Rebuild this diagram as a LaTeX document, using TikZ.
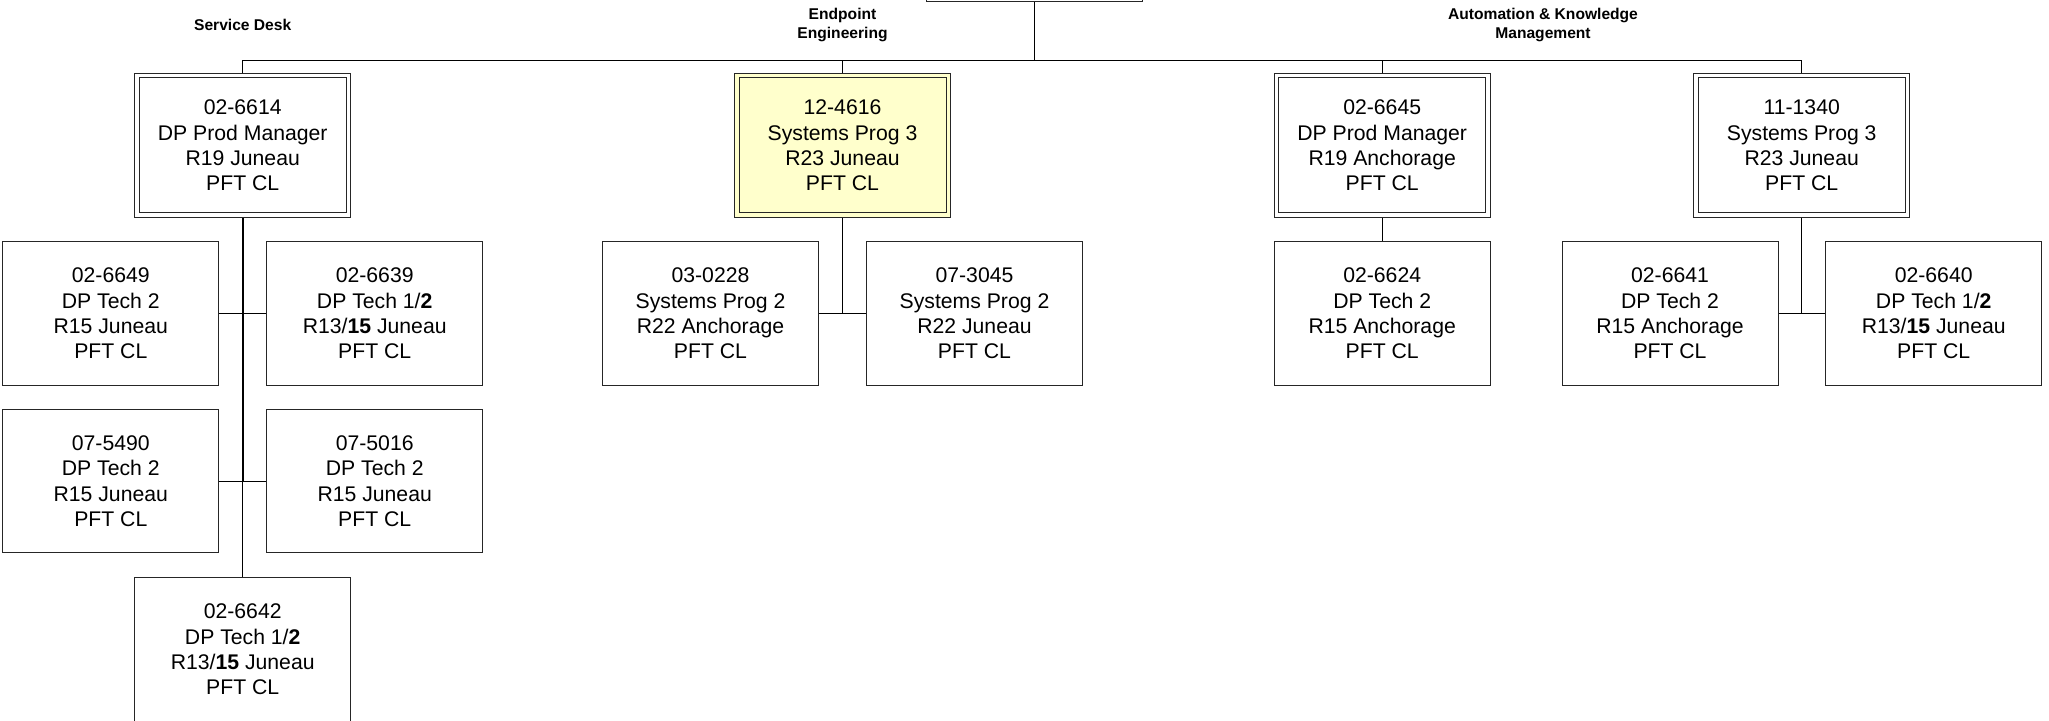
\documentclass[tikz,border=0pt]{standalone}
\usepackage{fontspec}
\setmainfont{Liberation Sans}
\definecolor{lightyellow}{RGB}{255,255,204}

\begin{document}
\begin{tikzpicture}[x=0.5pt, y=-0.5pt,
  post/.style = {draw=black!85, line width=0.5pt, minimum width=108pt, minimum height=71.7pt,
    inner sep=0pt, align=center, font=\fontsize{10.6}{12.6}\selectfont},
  head/.style = {post, double=white, double distance=1.75pt, outer sep=1.375pt,
    minimum width=105.75pt, minimum height=69.75pt},
  group/.style = {align=center, font=\fontsize{7.8}{9.3}\selectfont\bfseries},
  link/.style = {draw=black, line width=0.5pt}]
\useasboundingbox (0, 0) rectangle (2049, 720);
\coordinate (bus) at (0, 60.3);
\node[post] (top) at (1034, -70.4) {};
\node[group] (sdlabel) at (242.7, 25) {Service Desk};
\node[group] (eelabel) at (842.5, 25) {Endpoint\\Engineering};
\node[group] (amlabel) at (1543, 25) {Automation \& Knowledge\\Management};
\node[head] (sd) at (242.7, 145.3) {02-6614\\DP Prod Manager\\R19 Juneau\\PFT CL};
\node[head, fill=lightyellow, double=lightyellow] (ee) at (842.5, 145.3) {12-4616\\Systems Prog 3\\R23 Juneau\\PFT CL};
\node[head] (am1) at (1382.2, 145.3) {02-6645\\DP Prod Manager\\R19 Anchorage\\PFT CL};
\node[head] (am2) at (1801.7, 145.3) {11-1340\\Systems Prog 3\\R23 Juneau\\PFT CL};
\node[post] (sd1) at (110.8, 313.3) {02-6649\\DP Tech 2\\R15 Juneau\\PFT CL};
\node[post] (sd2) at (374.7, 313.3) {02-6639\\DP Tech 1/\textbf{2}\\R13/\textbf{15} Juneau\\PFT CL};
\node[post] (sd3) at (110.8, 481.2) {07-5490\\DP Tech 2\\R15 Juneau\\PFT CL};
\node[post] (sd4) at (374.7, 481.2) {07-5016\\DP Tech 2\\R15 Juneau\\PFT CL};
\node[post] (sd5) at (242.7, 649.3) {02-6642\\DP Tech 1/\textbf{2}\\R13/\textbf{15} Juneau\\PFT CL};
\node[post] (ee1) at (710.5, 313.3) {03-0228\\Systems Prog 2\\R22 Anchorage\\PFT CL};
\node[post] (ee2) at (974.5, 313.3) {07-3045\\Systems Prog 2\\R22 Juneau\\PFT CL};
\node[post] (am11) at (1382.2, 313.3) {02-6624\\DP Tech 2\\R15 Anchorage\\PFT CL};
\node[post] (am21) at (1670, 313.3) {02-6641\\DP Tech 2\\R15 Anchorage\\PFT CL};
\node[post] (am22) at (1933.7, 313.3) {02-6640\\DP Tech 1/\textbf{2}\\R13/\textbf{15} Juneau\\PFT CL};
% top level
\draw[link] (sd.north) -- (sd.north |- bus) -| (am2.north);
\draw[link] (top.south) -- (top.south |- bus);
\draw[link] (ee.north) -- (ee.north |- bus);
\draw[link] (am1.north) -- (am1.north |- bus);
% service desk
\draw[link, line width=1pt] (sd.south) -- (sd.south |- sd3.east);
\draw[link] (sd.south |- sd3.east) -- (sd5.north);
\draw[link] (sd1.east) -- (sd2.west);
\draw[link] (sd3.east) -- (sd4.west);
% endpoint engineering
\draw[link] (ee.south) -- (ee.south |- ee1.east);
\draw[link] (ee1.east) -- (ee2.west);
% automation
\draw[link] (am1.south) -- (am11.north);
\draw[link] (am2.south) -- (am2.south |- am21.east);
\draw[link] (am21.east) -- (am22.west);
\end{tikzpicture}
\end{document}
